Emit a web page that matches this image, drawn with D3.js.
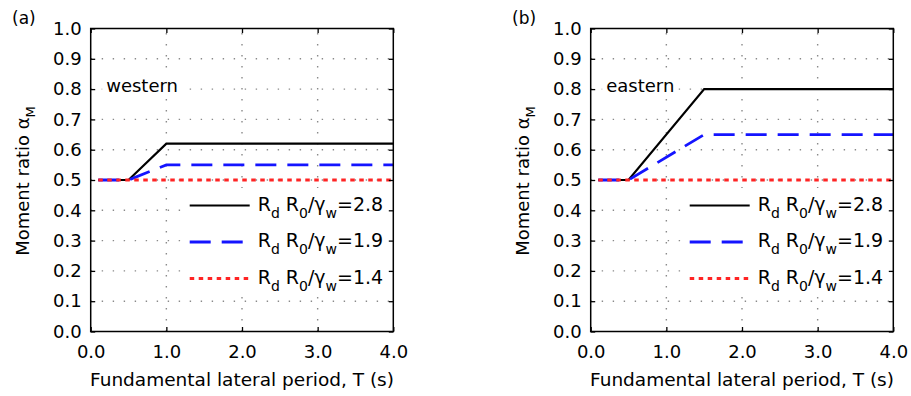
<!DOCTYPE html>
<html>
<head>
<meta charset="utf-8">
<script src="https://cdn.jsdelivr.net/npm/d3@7"></script>
<style>
  body { margin: 0; background: #fff; }
  svg { display: block; }
  text { font-family: "DejaVu Sans", sans-serif; fill: #000; white-space: pre; }
</style>
</head>
<body>
<svg id="chart" width="911" height="396"></svg>
<script>
// data
var periodTicks = [0, 1, 2, 3, 4];
var ratioTicks = [0, 0.1, 0.2, 0.3, 0.4, 0.5, 0.6, 0.7, 0.8, 0.9, 1.0];
var legendValues = ["2.8", "1.9", "1.4"];
var panelNames = ["(a)", "(b)"];
var regionNames = ["western", "eastern"];

// [T, alphaM]
var westernHigh = [[0.1, 0.5], [0.5, 0.5], [1.0, 0.62], [4.0, 0.62]];
var westernMid = [[0.1, 0.5], [0.5, 0.5], [1.0, 0.55], [4.0, 0.55]];
var westernLow = [[0.1, 0.5], [4.0, 0.5]];
var easternHigh = [[0.1, 0.5], [0.5, 0.5], [1.5, 0.8], [4.0, 0.8]];
var easternMid = [[0.1, 0.5], [0.5, 0.5], [1.5, 0.65], [4.0, 0.65]];
var easternLow = [[0.1, 0.5], [4.0, 0.5]];

var panelSeries = [[westernHigh, westernMid, westernLow], [easternHigh, easternMid, easternLow]];

// one style per series (2.8, 1.9, 1.4)
var styles = [
  {color: "#000000", width: 2.2, dash: null},
  {color: "#1414ff", width: 2.8, dash: "21,11"},
  {color: "#ff2424", width: 3, dash: "4.5,4.5"}
];

var svg = d3.select("#chart");

function drawPanel(idx) {
  var off = idx * 500;
  var x = d3.scaleLinear().domain([0, 4]).range([90.7 + off, 393.3 + off]);
  var y = d3.scaleLinear().domain([0, 1]).range([331.5, 28.5]);
  var g = svg.append("g");

  // dotted grid
  g.selectAll(".gy").data(ratioTicks.slice(1, -1)).enter().append("line")
    .attr("x1", x(0)).attr("x2", x(4))
    .attr("y1", function(d) { return y(d); }).attr("y2", function(d) { return y(d); })
    .attr("stroke", "#8a8a8a").attr("stroke-width", 1.4).attr("stroke-dasharray", "1.4,9.6");
  g.selectAll(".gx").data(periodTicks.slice(1, -1)).enter().append("line")
    .attr("y1", y(0)).attr("y2", y(1))
    .attr("x1", function(d) { return x(d); }).attr("x2", function(d) { return x(d); })
    .attr("stroke", "#8a8a8a").attr("stroke-width", 1.4).attr("stroke-dasharray", "1.4,9.6");

  // lines
  var line = d3.line().x(function(d) { return x(d[0]); }).y(function(d) { return y(d[1]); });
  panelSeries[idx].forEach(function(s, i) {
    g.append("path").datum(s)
      .attr("d", line)
      .attr("fill", "none")
      .attr("stroke", styles[i].color)
      .attr("stroke-width", styles[i].width)
      .attr("stroke-dasharray", styles[i].dash);
  });

  // region label with white box
  var lbl = g.append("text").attr("x", x(0) + 15.5).attr("y", 91.5)
    .attr("font-size", 18).text(regionNames[idx]);
  var bb = lbl.node().getBBox();
  g.insert("rect", "text").attr("x", bb.x - 4).attr("y", bb.y - 1)
    .attr("width", bb.width + 8).attr("height", bb.height + 2).attr("fill", "#fff");

  // legend
  var lg = g.append("g");
  lg.append("rect").attr("x", x(0) + 94).attr("y", 188)
    .attr("width", 208).attr("height", 108).attr("fill", "#fff");
  legendValues.forEach(function(v, i) {
    var ly = 205.5 + i * 36.5;
    lg.append("line")
      .attr("x1", x(0) + 99).attr("x2", x(0) + 159)
      .attr("y1", ly).attr("y2", ly)
      .attr("stroke", styles[i].color)
      .attr("stroke-width", styles[i].width)
      .attr("stroke-dasharray", styles[i].dash);
    var t = lg.append("text").attr("x", x(0) + 167).attr("y", ly + 5).attr("font-size", 19);
    t.append("tspan").text("R");
    t.append("tspan").attr("dy", 7).attr("font-size", 14).text("d");
    t.append("tspan").attr("dy", -7).text(" R");
    t.append("tspan").attr("dy", 7).attr("font-size", 14).text("0");
    t.append("tspan").attr("dy", -7).text("/\u03b3");
    t.append("tspan").attr("dy", 7).attr("font-size", 14).text("w");
    t.append("tspan").attr("dy", -7).text("=" + v);
  });

  // frame and inward ticks
  g.append("rect").attr("x", x(0)).attr("y", y(1))
    .attr("width", x(4) - x(0)).attr("height", y(0) - y(1))
    .attr("fill", "none").attr("stroke", "#000").attr("stroke-width", 1.5);

  var axL = d3.axisLeft(y).tickValues(ratioTicks).tickSize(-4.5).tickPadding(9).tickFormat(d3.format(".1f"));
  var axR = d3.axisRight(y).tickValues(ratioTicks).tickSize(-4.5).tickFormat("");
  var axB = d3.axisBottom(x).tickValues(periodTicks).tickSize(-4.5).tickPadding(14).tickFormat(d3.format(".1f"));
  var axT = d3.axisTop(x).tickValues(periodTicks).tickSize(-4.5).tickFormat("");

  [[axL, "translate(" + x(0) + ",0)"], [axR, "translate(" + x(4) + ",0)"],
   [axB, "translate(0," + y(0) + ")"], [axT, "translate(0," + y(1) + ")"]].forEach(function(a) {
    var ag = g.append("g").attr("transform", a[1]).call(a[0]);
    ag.select(".domain").remove();
    ag.selectAll(".tick line").attr("stroke", "#000").attr("stroke-width", 1.3);
    ag.selectAll("text").attr("font-size", 18).attr("font-family", "DejaVu Sans").attr("fill", "#000");
  });

  // axis titles
  g.append("text").attr("x", (x(0) + x(4)) / 2).attr("y", 386)
    .attr("text-anchor", "middle").attr("font-size", 18.5)
    .text("Fundamental lateral period, T (s)");

  var yl = g.append("text").attr("transform", "translate(" + (28.5 + off) + ",181) rotate(-90)")
    .attr("text-anchor", "middle").attr("font-size", 18);
  yl.append("tspan").text("Moment ratio \u03b1");
  yl.append("tspan").attr("dy", 6).attr("font-size", 13).text("M");

  g.append("text").attr("x", 12 + off).attr("y", 23.5).attr("font-size", 17).text(panelNames[idx]);
}

drawPanel(0);
drawPanel(1);
</script>
</body>
</html>
